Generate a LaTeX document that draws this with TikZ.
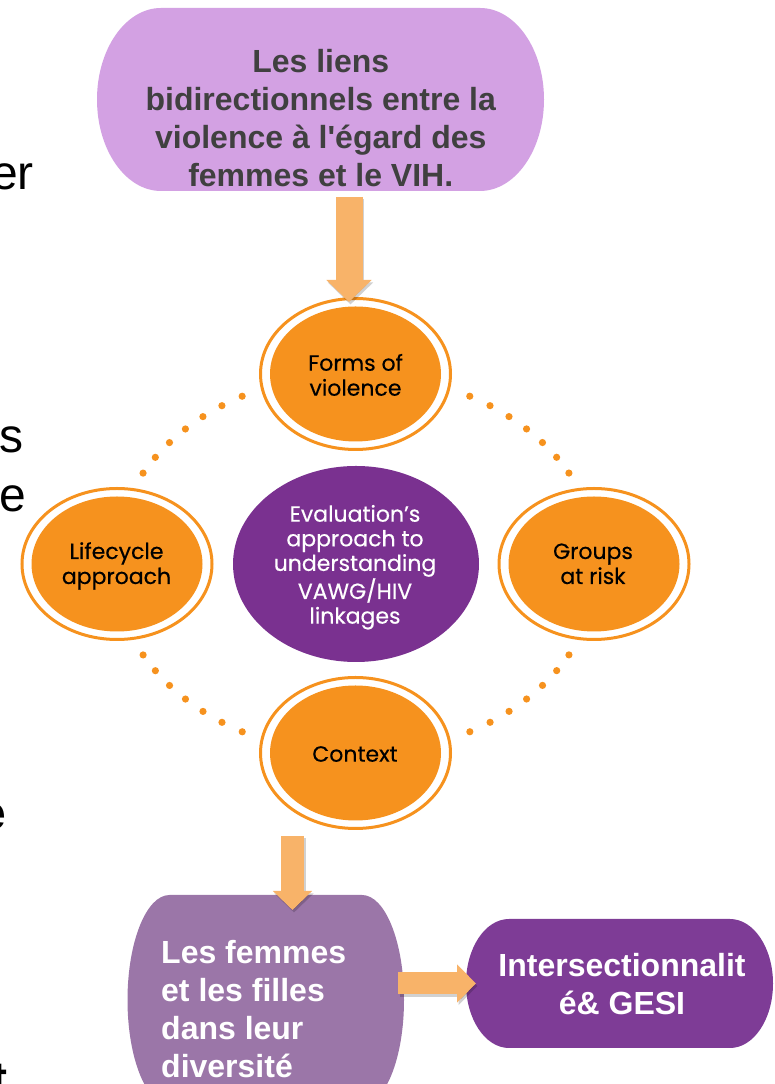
\documentclass[tikz,border=0pt]{standalone}
\usepackage{fontspec}
\setmainfont{Liberation Sans}
\newfontfamily\circfont{Poppins}[FakeBold=0.35]
\usetikzlibrary{shapes.geometric,arrows.meta,calc}
\definecolor{topc}{HTML}{D3A1E3}
\definecolor{arrowc}{HTML}{F8B369}
\definecolor{orangec}{HTML}{F6921E}
\definecolor{centerc}{HTML}{7A3190}
\definecolor{femmesc}{HTML}{9B76A8}
\definecolor{interc}{HTML}{7E3C96}
\definecolor{txtgray}{HTML}{404040}
\newcommand\stadiumfill[3]{%
  \fill[#3] let \p1=(#1.north west), \p2=(#1.south east), \n1={(\y1-\y2)/2} in
    (\x1+#2pt,\y1) -- (\x2-#2pt,\y1)
    arc[start angle=90,end angle=-90,x radius=#2pt,y radius=\n1]
    -- (\x1+#2pt,\y2)
    arc[start angle=270,end angle=90,x radius=#2pt,y radius=\n1] -- cycle;}
\begin{document}
\begin{tikzpicture}[x=1pt,y=1pt,
  boxnode/.style={rectangle,draw=none,inner sep=0pt,outer sep=0pt},
  boxtext/.style={inner sep=0pt,font=\fontsize{32}{38}\selectfont\bfseries},
  frag/.style={inner sep=0pt,font=\fontsize{48}{48}\selectfont,text=black},
  ring/.style={ellipse,draw=orangec,line width=3pt,fill=white,inner sep=0pt,
    minimum width=190pt,minimum height=151pt,
    path picture={\fill[orangec] (path picture bounding box.center) ellipse[x radius=85.5pt,y radius=67.5pt];}},
  ctext/.style={inner sep=0pt,font=\circfont\fontsize{22}{25}\selectfont,text=black},
  mtext/.style={inner sep=0pt,font=\circfont\fontsize{22}{24.6}\selectfont,text=white},
  fatarrow/.style={draw=arrowc,line width=#1},
  shadowarrow/.style={draw=black,opacity=0.18,line width=#1,transform canvas={shift={(1.5pt,-2.5pt)}}},
  dot/.style={fill=orangec}]
\useasboundingbox (0,0) rectangle (774,1084);
\clip (0,0) rectangle (774,1084);

% text fragments cut at the left edge
\node[frag,anchor=base east] (f1) at (34,894) {er};
\node[frag,anchor=base west] (f2) at (-1,631.3) {s};
\node[frag,anchor=base west] (f3) at (-1,572.3) {e};
\node[frag,font=\fontsize{48}{48}\selectfont\bfseries,anchor=base west] (f4) at (-21,254) {e};
\node[frag,font=\fontsize{48}{48}\selectfont\bfseries,anchor=base west] (f5) at (-9,-11) {t};

% top box
\node[boxnode,minimum width=447pt,minimum height=183pt] (topbox) at (320.5,984.5) {};
\stadiumfill{topbox}{64}{topc}
\node[boxtext,text=txtgray,anchor=base] (toptext) at (320.75,1011.3)
  {\begin{tabular}[t]{@{}c@{}}Les liens\\bidirectionnels entre la\\violence à l\textquotesingle égard des\\femmes et le VIH.\end{tabular}};

% circles
\node[ring] (forms) at (355.5,710) {};
\node[ring] (life) at (117,520) {};
\node[ring] (groups) at (594,520) {};
\node[ring] (context) at (355.5,331) {};
\node[ellipse,fill=centerc,inner sep=0pt,minimum width=246pt,minimum height=196pt] (center) at (356,520) {};

\node[ctext,anchor=base] (formsT) at (355.5,713.3) {\begin{tabular}[t]{@{}c@{}}Forms of\\violence\end{tabular}};
\node[ctext,anchor=base] (lifeT) at (116.5,525) {\begin{tabular}[t]{@{}c@{}}Lifecycle\\approach\end{tabular}};
\node[ctext,anchor=base] (groupsT) at (593,525) {\begin{tabular}[t]{@{}c@{}}Groups\\at risk\end{tabular}};
\node[ctext,anchor=base] (contextT) at (355,322.3) {Context};
\node[mtext,anchor=base] (centerT) at (355,562.3) {\begin{tabular}[t]{@{}c@{}}Evaluation’s\\approach to\\understanding\\VAWG/HIV\\linkages\end{tabular}};

% dotted arcs
\foreach \s in {118,28.6,208.6,298}{
  \foreach \k in {0,...,6}{
    \fill[dot] ({356+242.5*cos(\s+\k*5.57)},{520+190*sin(\s+\k*5.57)}) circle[radius=3.6pt];
  }
}

% bottom boxes
\node[boxnode,minimum width=276.5pt,minimum height=210pt] (femmes) at (265.75,84) {};
\stadiumfill{femmes}{42}{femmesc}
\node[boxtext,text=white,anchor=base west] (femmesT) at (161,120.7)
  {\begin{tabular}[t]{@{}l@{}}Les femmes\\et les filles\\dans leur\\diversité\end{tabular}};

\node[boxnode,minimum width=307pt,minimum height=129pt] (inter) at (619.5,100.5) {};
\stadiumfill{inter}{43}{interc}
\node[boxtext,text=white,anchor=base] (interT) at (622,107.3)
  {\begin{tabular}[t]{@{}c@{}}Intersectionnalit\\é\& GESI\end{tabular}};

% arrows
\coordinate (a1s) at ($(topbox.south)+(28.5,-6)$);
\coordinate (a1e) at ($(forms.north)+(-6.5,-5)$);
\coordinate (a2s) at ($(context.south)+(-63,-6)$);
\coordinate (a2e) at ($(femmes.north)+(26.75,-15)$);
\coordinate (a3s) at ($(femmes.east |- inter.west)+(-6,0)$);
\coordinate (a3e) at ($(inter.west)+(10,0)$);

\draw[shadowarrow=27pt,-{Triangle[width=44pt,length=22pt]}] (a1s) -- (a1e);
\draw[fatarrow=27pt,-{Triangle[width=44pt,length=22pt]}] (a1s) -- (a1e);
\draw[shadowarrow=23pt,-{Triangle[width=38pt,length=19pt]}] (a2s) -- (a2e);
\draw[fatarrow=23pt,-{Triangle[width=38pt,length=19pt]}] (a2s) -- (a2e);
\draw[shadowarrow=22pt,-{Triangle[width=37pt,length=19pt]}] (a3s) -- (a3e);
\draw[fatarrow=22pt,-{Triangle[width=37pt,length=19pt]}] (a3s) -- (a3e);
\end{tikzpicture}
\end{document}
